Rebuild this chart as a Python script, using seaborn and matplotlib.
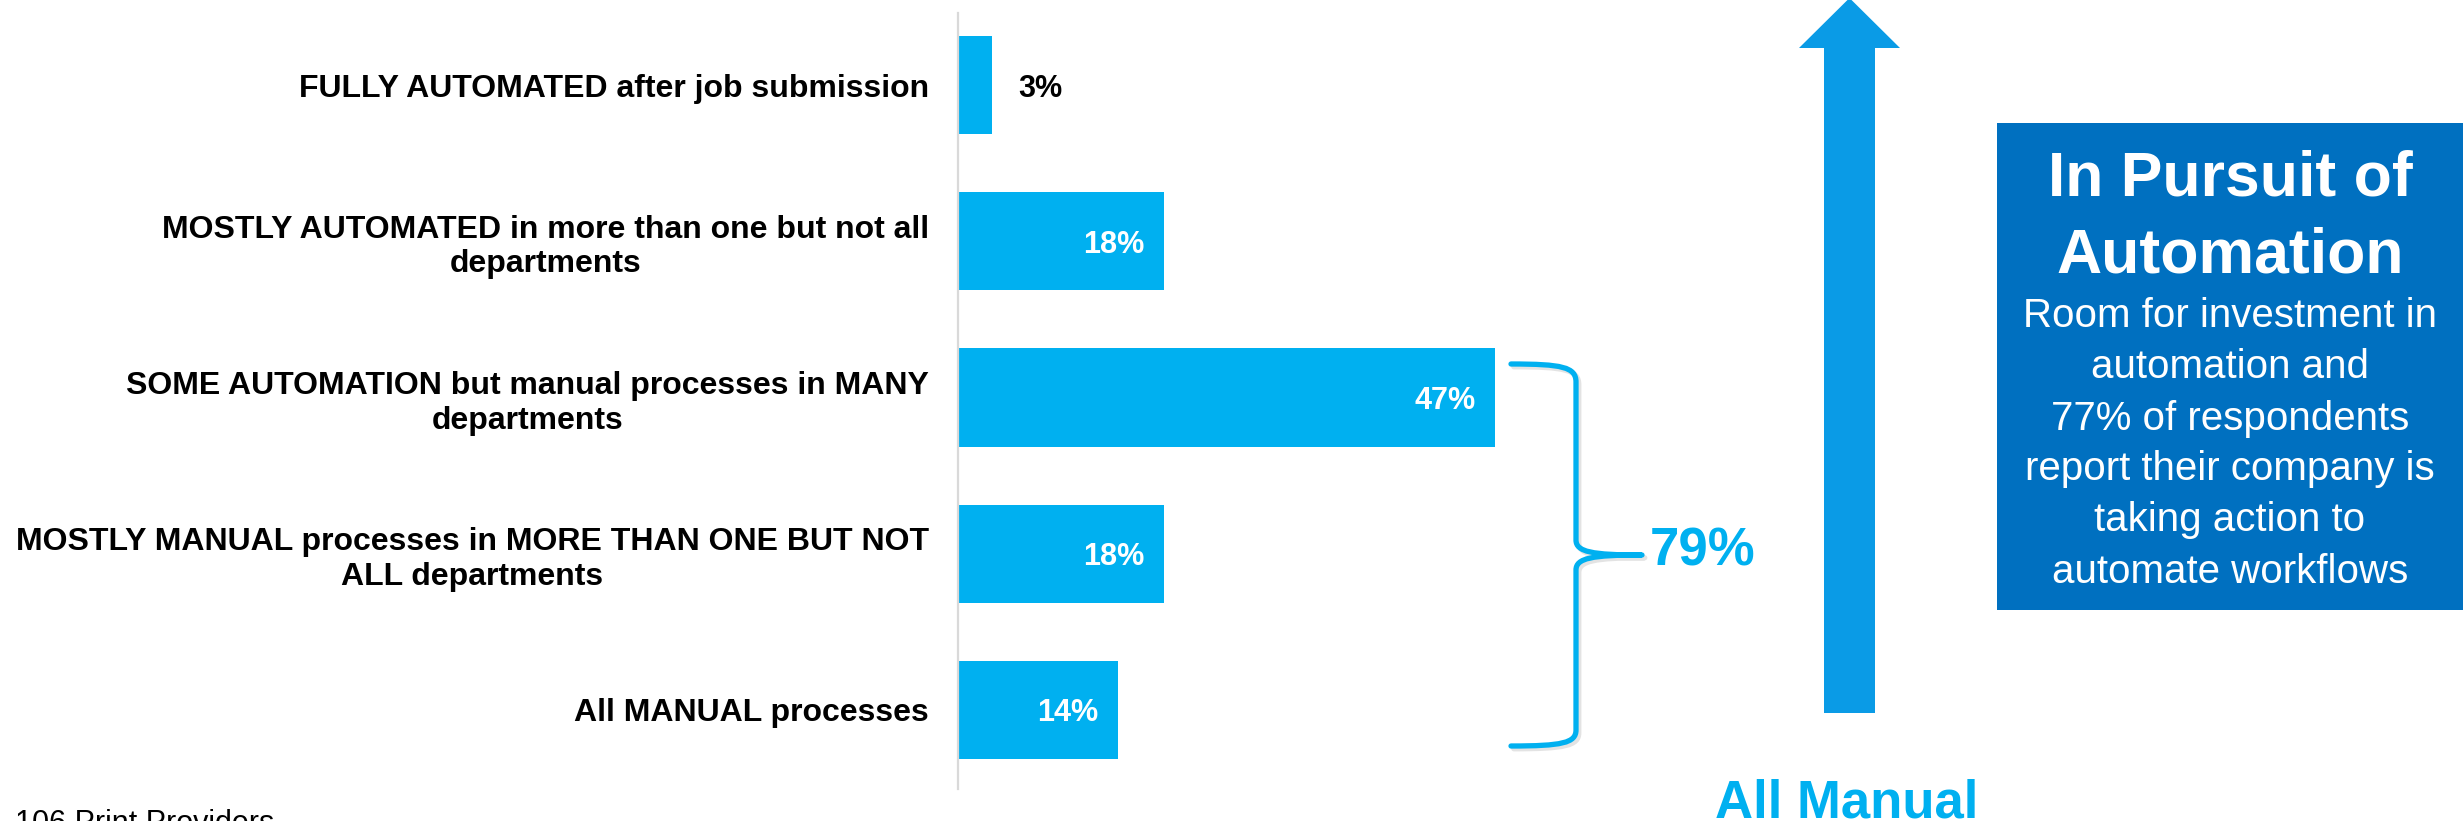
import matplotlib
matplotlib.use("Agg")
import matplotlib.pyplot as plt
import matplotlib.patheffects as pe
from matplotlib.patches import Polygon, Rectangle, PathPatch
from matplotlib.path import Path
import seaborn as sns
import pandas as pd

# ---- data -------------------------------------------------------------
categories = [
    "FULLY AUTOMATED after job submission",
    "MOSTLY AUTOMATED in more than one but not all\ndepartments",
    "SOME AUTOMATION but manual processes in MANY\ndepartments",
    "MOSTLY MANUAL processes in MORE THAN ONE BUT NOT\nALL departments",
    "All MANUAL processes",
]
shares = [3, 18, 47, 18, 14]
bracket_total = "79%"
arrow_caption = "All Manual"
base_note = "106 Print Providers"
box_title = ["In Pursuit of", "Automation"]
box_body = [
    "Room for investment in",
    "automation and",
    "77% of respondents",
    "report their company is",
    "taking action to",
    "automate workflows",
]

# ---- style ------------------------------------------------------------
sns.set_style("white")
plt.rcParams["font.family"] = ["Liberation Sans", "DejaVu Sans"]

BAR = "#00B0F0"
ARROW = "#0A9BE6"
BOX = "#0070C0"

W, H = 2463, 821
fig = plt.figure(figsize=(W / 100, H / 100), dpi=100)


def fx(x):
    return x / W


def fy(y):
    return 1 - y / H


# ---- bar chart --------------------------------------------------------
df = pd.DataFrame({"category": categories, "share": shares})
ax = fig.add_axes([fx(958), fy(789), fx(686), (789 - 13) / H])
sns.barplot(data=df, x="share", y="category", orient="h", color=BAR,
            width=0.63, saturation=1, linewidth=0, ax=ax)
ax.set_xlim(0, 60)
ax.set_ylim(4.506, -0.461)
ax.set_xlabel("")
ax.set_ylabel("")
ax.set_xticks([])
for side in ("top", "right", "bottom"):
    ax.spines[side].set_visible(False)
ax.spines["left"].set_color("#D9D9D9")
ax.spines["left"].set_linewidth(1.6)
ax.tick_params(axis="y", length=0, pad=21)
for lab in ax.get_yticklabels():
    lab.set_fontsize(23)
    lab.set_fontweight("bold")
    lab.set_multialignment("center")
    lab.set_color("black")

for i, v in enumerate(shares):
    if v < 8:
        ax.annotate(f"{v}%", xy=(v, i), xytext=(19, 0), textcoords="offset points",
                    ha="left", va="center_baseline", fontsize=22,
                    fontweight="bold", color="black")
    else:
        ax.annotate(f"{v}%", xy=(v, i), xytext=(-14, 0), textcoords="offset points",
                    ha="right", va="center_baseline", fontsize=22,
                    fontweight="bold", color="white")

# ---- curly bracket spanning the lower three bars -----------------------
brace_pts = [
    (1511, 364), (1562, 364), (1576, 367), (1576, 382),
    (1576, 540),
    (1576, 552), (1592, 555), (1642, 555),
    (1592, 555), (1576, 558), (1576, 570),
    (1576, 730),
    (1576, 743), (1562, 746), (1511, 746),
]
codes = [Path.MOVETO, Path.CURVE4, Path.CURVE4, Path.CURVE4,
         Path.LINETO,
         Path.CURVE4, Path.CURVE4, Path.CURVE4,
         Path.CURVE4, Path.CURVE4, Path.CURVE4,
         Path.LINETO,
         Path.CURVE4, Path.CURVE4, Path.CURVE4]
brace = PathPatch(Path([(fx(x), fy(y)) for x, y in brace_pts], codes),
                  transform=fig.transFigure, fill=False, edgecolor=BAR,
                  linewidth=3.8, capstyle="round", joinstyle="round")
brace.set_path_effects([pe.SimpleLineShadow(offset=(2, -2), alpha=0.22,
                                            shadow_color="gray"),
                        pe.Normal()])
fig.add_artist(brace)
fig.text(fx(1650), fy(565), bracket_total, ha="left", va="baseline",
         fontsize=38, fontweight="bold", color=BAR)

# ---- upward arrow -----------------------------------------------------
arrow_pts = [(1849.5, -2), (1900, 48), (1875, 48), (1875, 713),
             (1824, 713), (1824, 48), (1799, 48)]
fig.add_artist(Polygon([(fx(x), fy(y)) for x, y in arrow_pts], closed=True,
                       transform=fig.transFigure, facecolor=ARROW,
                       edgecolor="none"))
fig.text(fx(1847), fy(817), arrow_caption, ha="center", va="baseline",
         fontsize=38, fontweight="bold", color=BAR)

# ---- callout box ------------------------------------------------------
fig.add_artist(Rectangle((fx(1997), fy(610)), fx(480), (610 - 123) / H,
                         transform=fig.transFigure, facecolor=BOX,
                         edgecolor="none"))
cx = 2230
for line, base in zip(box_title, [195, 272]):
    fig.text(fx(cx), fy(base), line, ha="center", va="baseline",
             fontsize=45, fontweight="bold", color="white")
for line, base in zip(box_body, [327, 378, 430, 480, 531, 583]):
    fig.text(fx(cx), fy(base), line, ha="center", va="baseline",
             fontsize=29, color="white")

# ---- footnote ---------------------------------------------------------
fig.text(fx(15), fy(832), base_note, ha="left", va="baseline",
         fontsize=22, color="black")

fig.savefig("out.png", dpi=100)
